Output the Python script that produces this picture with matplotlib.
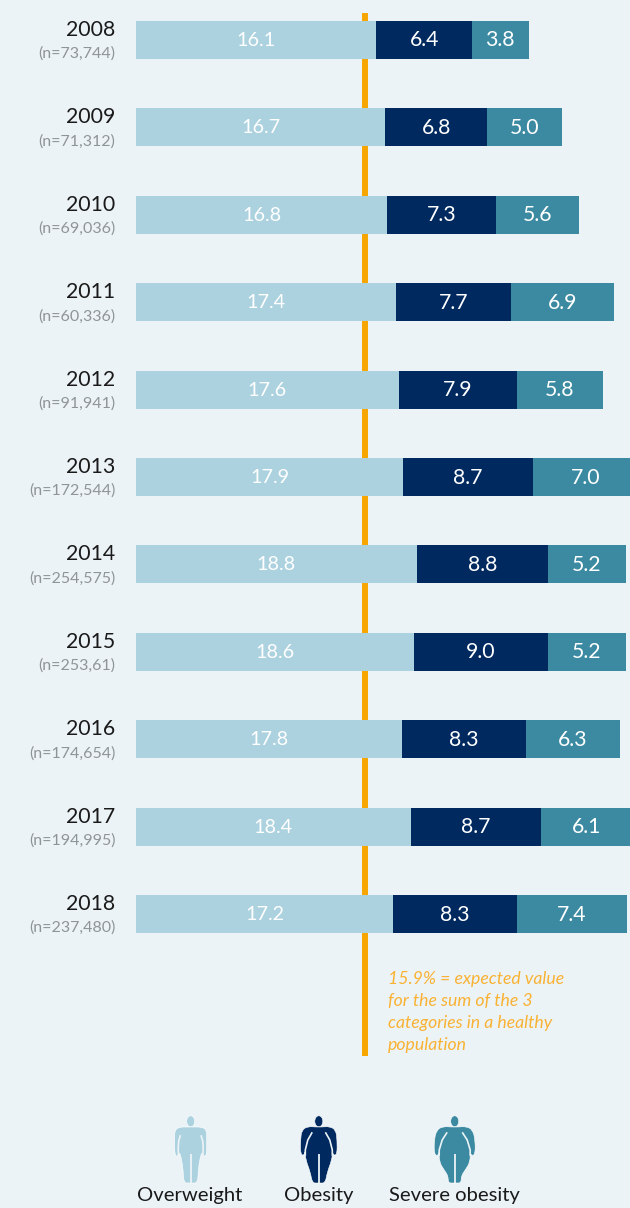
import matplotlib
matplotlib.use("Agg")
import matplotlib.pyplot as plt
from matplotlib.patches import PathPatch, Ellipse
from matplotlib.path import Path

years = ["2008","2009","2010","2011","2012","2013","2014","2015","2016","2017","2018"]
sample_sizes = ["(n=73,744)","(n=71,312)","(n=69,036)","(n=60,336)","(n=91,941)","(n=172,544)",
                "(n=254,575)","(n=253,61)","(n=174,654)","(n=194,995)","(n=237,480)"]
overweight = [16.1,16.7,16.8,17.4,17.6,17.9,18.8,18.6,17.8,18.4,17.2]
obesity = [6.4,6.8,7.3,7.7,7.9,8.7,8.8,9.0,8.3,8.7,8.3]
severe = [3.8,5.0,5.6,6.9,5.8,7.0,5.2,5.2,6.3,6.1,7.4]
series_names = ["Overweight","Obesity","Severe obesity"]
colors = ["#ACD2E0","#00295F","#3C8AA2"]
BG = "#ECF3F7"; ORANGE = "#F7A600"
W, H = 630, 1208
PX = 14.93
X0 = 136

plt.rcParams["font.family"] = ["Lato", "DejaVu Sans"]
fig = plt.figure(figsize=(W/100, H/100), dpi=100, facecolor=BG)
ax = fig.add_axes([0,0,1,1], facecolor=BG)
ax.set_xlim(-X0/PX, (W-X0)/PX)
STEP = 87.4
ax.set_ylim((H-40)/STEP, -40/STEP)
ax.axis("off")

ax.plot([15.35,15.35],[-27/STEP,1016/STEP],color=ORANGE,lw=4.3,solid_capstyle="butt",zorder=1)

ypos = list(range(len(years)))
left = [0]*len(years)
for vals, c, fs in zip([overweight,obesity,severe], colors, [14.2,15.3,15.3]):
    ax.barh(ypos, vals, left=left, height=38/STEP, color=c, zorder=2, linewidth=0)
    for y, l, v in zip(ypos, left, vals):
        ax.text(l+v/2, y+0.5/STEP, f"{v:.1f}", color="white", ha="center", va="center", fontsize=fs, zorder=3)
    left = [a+b for a,b in zip(left,vals)]

def xp(p): return (p-X0)/PX
def yp(p): return (p-40)/STEP
for y, yr, n in zip(ypos, years, sample_sizes):
    ax.text(xp(115.5), y-10/STEP, yr, ha="right", va="center", fontsize=15.3, color="#1a1a1a")
    ax.text(xp(115.5), y+14/STEP, n, ha="right", va="center", fontsize=11.5, color="#8f9497")

note = ["15.9% = expected value","for the sum of the 3","categories in a healthy","population"]
for i, line in enumerate(note):
    ax.text(xp(388), yp(978.5+22.3*i), line, color="#F9B233", fontsize=12.7, style="italic", ha="left", va="center")

def smooth_closed(pts):
    n = len(pts)
    mid = lambda a, b: ((a[0]+b[0])/2, (a[1]+b[1])/2)
    verts = [mid(pts[-1], pts[0])]
    codes = [Path.MOVETO]
    for i in range(n):
        verts += [pts[i], mid(pts[i], pts[(i+1) % n])]
        codes += [Path.CURVE3, Path.CURVE3]
    return Path([(xp(a), yp(b)) for a, b in verts], codes)

def figure_icon(cx, color, profile, gap):
    ax.add_patch(Ellipse((xp(cx), yp(1121.3)), 8/PX, 11/STEP, facecolor=color, edgecolor="white", lw=0.4, zorder=3))
    pts = [(cx+w, y) for y, w in profile] + [(cx-w, y) for y, w in reversed(profile)]
    ax.add_patch(PathPatch(smooth_closed(pts), facecolor=color, edgecolor="white", lw=0.4, zorder=3))
    ax.plot([xp(cx), xp(cx)], [yp(1154), yp(1183)], color=BG, lw=1.3, zorder=4, solid_capstyle="butt")
    for s in (1, -1):
        ax.plot([xp(cx+s*g) for _, g in gap], [yp(v) for v, _ in gap], color=BG, lw=1.2, zorder=4)

figure_icon(190.7, colors[0],
    [(1127,3),(1127,11),(1130,16),(1140,16),(1156,16),(1156,12.5),(1152,11.5),(1157,9.5),(1170,7.5),(1183,7),(1183,1)],
    [(1136,10.5),(1141,12),(1148,12.5),(1155,12.3)])
figure_icon(318.8, colors[1],
    [(1127,3),(1126.5,11),(1130,17),(1140,18.3),(1155,18.3),(1155,14),(1150,14),(1160,13),(1172,8.5),(1183,6.5),(1183,1)],
    [(1133,7),(1140,11),(1150,13.5),(1155,13.5)])
figure_icon(454.7, colors[2],
    [(1127,3),(1126.5,12),(1130,18),(1140,20.5),(1155,20.5),(1155.5,16),(1150,15.5),(1162,15.5),(1170,10.5),(1176,6.5),(1183,6.5),(1183,1)],
    [(1133,8),(1140,12.5),(1150,15.5),(1155,15.5)])

for cx, name in zip([190, 318.5, 454.5], series_names):
    ax.text(xp(cx), yp(1195), name, ha="center", va="center", fontsize=14.6, color="#1a1a1a")

fig.savefig("out.png", dpi=100, facecolor=BG)
